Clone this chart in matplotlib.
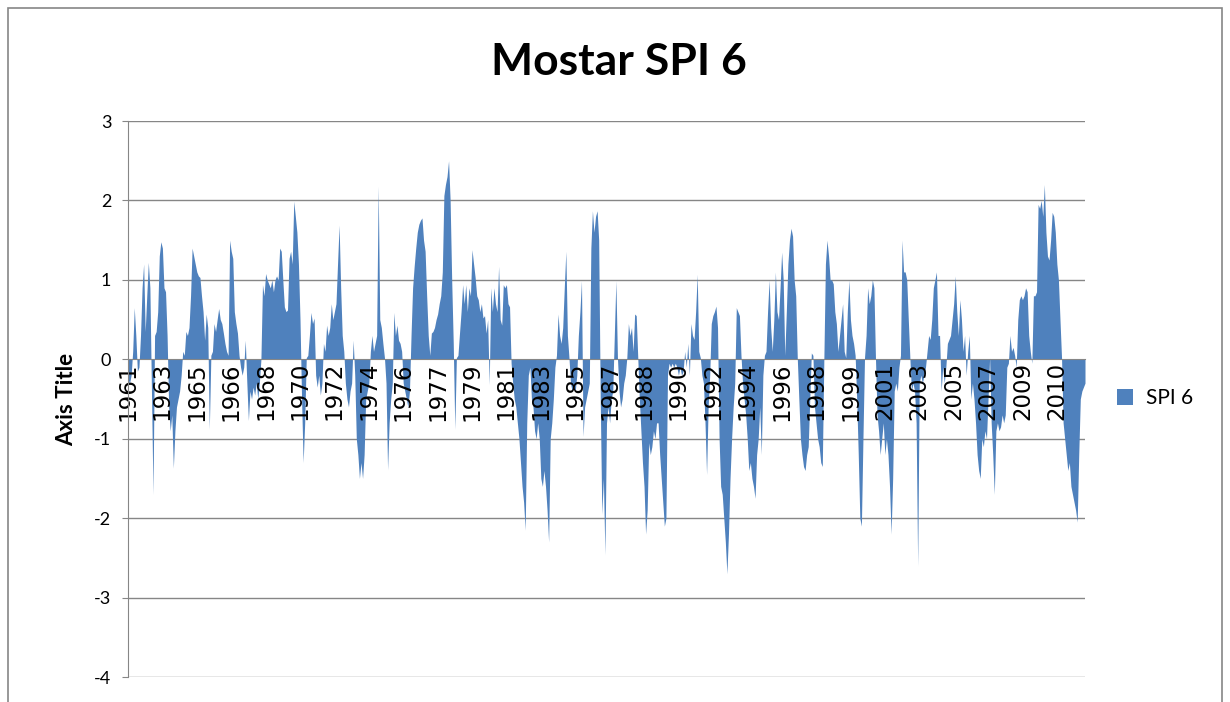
import matplotlib
matplotlib.use("Agg")
import matplotlib.pyplot as plt
from matplotlib.patches import Patch, Rectangle

# monthly SPI-6 for Mostar, starting June 1961
start_year = 1961
start_month = 6
spi6 = [
	-0.25, -0.30, -0.20, 0.10, 0.65, 0.30, -0.15, -0.10, 0.30, 0.90, 1.20, 0.35,
	0.80, 1.22, 0.90, -0.40, -1.70, 0.30, 0.35, 0.60, 1.30, 1.48, 1.40, 0.90,
	0.85, 0.30, -0.60, -0.90, -0.70, -1.37, -0.90, -0.60, -0.50, -0.40, -0.20, 0.10,
	0.05, 0.35, 0.30, 0.40, 0.80, 1.40, 1.30, 1.20, 1.10, 1.05, 1.03, 0.80,
	0.60, 0.24, 0.57, 0.40, -0.88, 0.05, 0.10, 0.45, 0.35, 0.50, 0.64, 0.50,
	0.45, 0.33, 0.20, 0.10, 0.05, 1.50, 1.36, 1.27, 0.60, 0.45, 0.33, 0.05,
	-0.10, -0.20, -0.10, 0.24, -0.30, -0.77, -0.40, -0.50, -0.35, -0.45, -0.30, -0.50,
	-0.30, 0.00, 0.94, 0.80, 1.08, 1.00, 0.95, 0.90, 1.00, 0.85, 1.00, 1.05,
	1.00, 1.40, 1.36, 1.00, 0.66, 0.60, 0.62, 1.27, 1.36, 1.20, 1.99, 1.80,
	1.60, 1.20, 0.50, -0.50, -1.30, -0.80, 0.02, 0.05, 0.30, 0.59, 0.45, 0.52,
	-0.20, -0.35, -0.20, -0.45, -0.30, 0.20, 0.10, 0.43, 0.30, 0.40, 0.70, 0.50,
	0.60, 0.70, 1.20, 1.69, 0.90, 0.30, 0.10, -0.30, -0.50, -0.60, -0.40, -0.30,
	0.24, -0.20, -1.00, -1.20, -1.50, -1.30, -1.50, -1.20, -0.50, -0.40, -0.30, 0.10,
	0.30, 0.10, 0.20, 0.30, 2.18, 0.50, 0.40, 0.20, 0.02, -0.30, -1.39, -0.80,
	-0.50, -0.30, 0.59, 0.30, 0.43, 0.24, 0.20, 0.10, -0.30, -0.40, -0.50, -0.60,
	-0.40, 0.30, 0.90, 1.17, 1.40, 1.60, 1.70, 1.75, 1.78, 1.50, 1.36, 0.80,
	0.30, 0.05, 0.33, 0.35, 0.40, 0.50, 0.57, 0.70, 0.80, 1.10, 2.06, 2.20,
	2.30, 2.50, 2.00, 1.00, 0.20, -0.88, 0.02, 0.05, 0.33, 0.60, 0.94, 0.70,
	0.94, 0.60, 0.90, 0.80, 1.38, 1.20, 1.03, 0.80, 0.75, 0.60, 0.70, 0.52,
	0.55, 0.33, 0.50, -0.32, 0.90, 0.60, 0.90, 0.70, 0.60, 1.17, 0.50, 0.43,
	0.94, 0.90, 0.94, 0.70, 0.66, -0.05, -0.30, -0.50, -0.60, -0.80, -1.00, -1.30,
	-1.60, -1.80, -2.15, -0.80, -0.20, -0.10, -0.50, -0.60, -0.90, -1.00, -0.80, -1.00,
	-1.50, -1.60, -1.40, -1.60, -1.90, -2.30, -1.00, -0.80, -0.50, -0.10, 0.05, 0.57,
	0.30, 0.20, 0.40, 0.90, 1.36, 0.30, 0.02, -0.30, -0.40, -0.35, -0.40, -0.20,
	0.30, 0.60, 0.99, -0.97, -0.60, -0.50, -0.40, -0.30, 1.40, 1.87, 1.60, 1.80,
	1.87, 1.50, -0.50, -1.95, -1.50, -2.46, -0.80, -0.60, -0.80, -0.50, -0.40, 0.30,
	0.99, 0.02, -0.40, -0.60, -0.50, -0.30, -0.20, 0.02, 0.45, 0.30, 0.40, 0.10,
	0.57, 0.55, 0.02, -0.50, -0.90, -1.30, -1.60, -2.20, -1.90, -1.05, -1.20, -1.10,
	-0.90, -1.00, -0.80, -0.80, -1.20, -1.50, -1.80, -2.10, -2.00, -0.20, -0.05, -0.10,
	-0.05, -0.10, -0.05, -0.10, -0.20, -0.10, -0.20, -0.15, 0.10, -0.10, 0.20, -0.20,
	0.45, 0.30, 0.25, 0.60, 1.07, 0.10, 0.02, -0.20, -0.30, -0.80, -1.45, -0.60,
	-0.20, 0.45, 0.55, 0.60, 0.67, 0.40, -1.00, -1.60, -1.70, -2.00, -2.30, -2.70,
	-2.20, -1.50, -1.00, -0.60, -0.30, 0.65, 0.60, 0.55, 0.05, -0.30, -0.50, -0.70,
	-1.00, -1.40, -1.30, -1.50, -1.60, -1.75, -1.20, -1.00, -0.60, -1.20, -0.20, 0.05,
	0.10, 0.60, 1.00, 0.40, 0.10, 0.50, 1.10, 0.60, 0.50, 0.90, 1.35, 1.00,
	0.05, 0.60, 1.20, 1.50, 1.65, 1.55, 1.00, 0.80, 0.02, -0.50, -1.00, -1.20,
	-1.35, -1.40, -1.20, -1.10, -0.50, 0.08, 0.05, -0.60, -0.80, -1.00, -1.10, -1.30,
	-1.35, 0.00, 1.20, 1.50, 1.30, 1.00, 1.00, 0.95, 0.60, 0.45, 0.10, 0.30,
	0.50, 0.70, 0.10, 0.02, 0.60, 1.00, 0.50, 0.30, 0.20, 0.05, -0.50, -1.20,
	-2.00, -2.10, -1.00, 0.02, 0.30, 0.90, 0.70, 0.80, 1.00, 0.90, 0.02, -0.70,
	-0.90, -1.20, -1.00, -0.80, -1.20, -1.00, -1.20, -1.60, -2.20, -1.50, -0.40, -0.30,
	-0.40, -0.10, 0.05, 1.50, 1.10, 1.10, 1.00, 0.50, 0.02, -0.40, -0.30, -0.40,
	-0.80, -2.60, -0.30, -0.20, -0.30, -0.20, -0.10, 0.10, 0.30, 0.25, 0.50, 0.90,
	1.00, 1.10, 0.30, 0.30, -0.40, -0.10, -0.30, -0.10, 0.20, 0.25, 0.30, 0.50,
	0.70, 1.05, 0.60, 0.30, 0.75, 0.50, 0.10, 0.30, -0.20, 0.10, 0.30, -0.50,
	-0.30, -0.50, -0.80, -1.20, -1.40, -1.50, -1.00, -1.10, -0.90, -1.00, -0.50, 0.02,
	-0.80, -1.20, -1.70, -0.90, -0.80, -0.90, -0.85, -0.70, -0.80, -0.70, -0.10, -0.05,
	0.30, 0.10, 0.15, 0.05, -0.10, 0.50, 0.75, 0.80, 0.75, 0.80, 0.90, 0.85,
	0.30, 0.10, -0.05, 0.80, 0.80, 0.85, 1.95, 1.90, 2.00, 1.80, 2.20, 1.60,
	1.30, 1.25, 1.50, 1.85, 1.80, 1.60, 1.20, 1.00, 0.50, 0.02, -0.80, -1.00,
	-1.20, -1.40, -1.30, -1.60, -1.70, -1.80, -1.90, -2.05, -1.20, -0.50, -0.40, -0.35,
	-0.30,
]
y_ticks = [3, 2, 1, 0, -1, -2, -3, -4]
label_step = 22
series_name = "SPI 6"
title = "Mostar SPI 6"

blue = "#4F81BD"
grid_gray = "#868686"

W, H = 1230, 702
fig = plt.figure(figsize=(W / 100, H / 100), dpi=100)
left, right, top, bottom = 128, 1085, 121, 677
ax = fig.add_axes([left / W, 1 - bottom / H, (right - left) / W, (bottom - top) / H])

x = list(range(len(spi6)))
ax.fill_between(x, 0, spi6, color=blue, linewidth=0, zorder=1)

# category axis crosses at zero, like the spreadsheet chart
ax.spines["top"].set_visible(False)
ax.spines["right"].set_visible(False)
ax.spines["bottom"].set_position(("data", 0))
ax.spines["bottom"].set_color(grid_gray)
ax.spines["left"].set_color(grid_gray)

ax.set_xlim(0, len(spi6) - 1)
ax.set_ylim(min(y_ticks), max(y_ticks))
ax.set_yticks(y_ticks)
ax.set_yticklabels([str(v) for v in y_ticks], fontsize=13, family="Lato")
for v in y_ticks:
	if v != 0:
		ax.axhline(v, color=grid_gray, lw=1, zorder=0.5)

tick_pos = list(range(0, len(spi6), label_step))
tick_lab = [str(start_year + (start_month - 1 + i) // 12) for i in tick_pos]
ax.set_xticks(tick_pos)
ax.set_xticklabels(tick_lab, rotation=90, va="top", ha="center", fontsize=16.5, family="DejaVu Sans")

ax.tick_params(axis="x", length=0, pad=2)
ax.tick_params(axis="y", length=4, color=grid_gray, pad=8)
ax.set_facecolor("none")

ax.set_ylabel("Axis Title", fontsize=16, fontweight="bold", family="Lato", labelpad=12)

fig.text(619 / W, 1 - 62 / H, title, ha="center", va="center", fontsize=32,
	fontweight="bold", family="Lato")

fig.legend(handles=[Patch(facecolor=blue, label=series_name)], loc="center left",
	bbox_to_anchor=(1098 / W, 1 - 398 / H), frameon=False,
	handlelength=0.8, handleheight=0.8, handletextpad=0.6, prop={"family": "Lato", "size": 15})

# chart border like the spreadsheet chart area
fig.patches.append(Rectangle((8 / W, -0.05), (1222 - 8) / W, 1 - 8 / H + 0.05,
	transform=fig.transFigure, fill=False, edgecolor=grid_gray, lw=1.2))

fig.savefig("out.png", dpi=100)
